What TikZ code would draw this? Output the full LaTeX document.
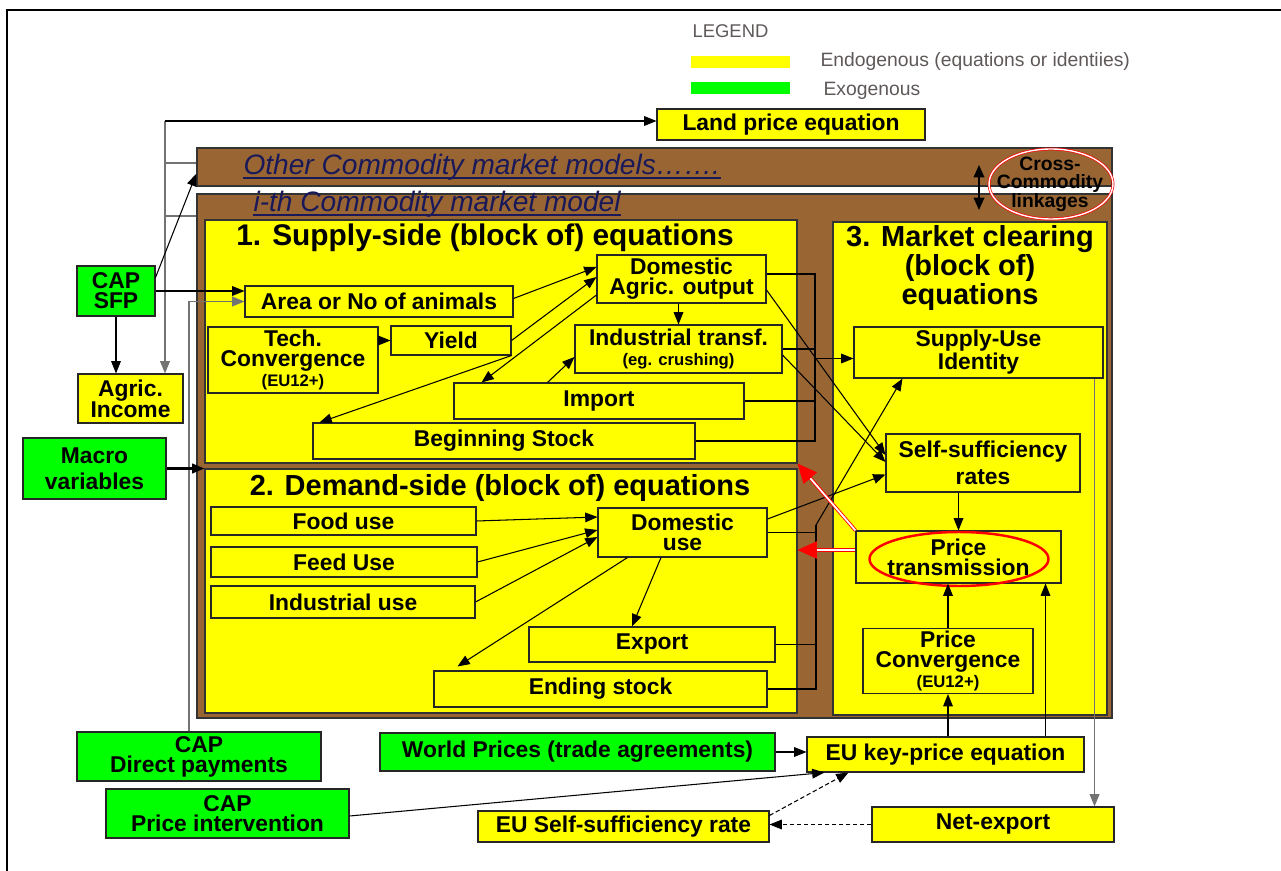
\documentclass[tikz,border=0pt]{standalone}
\usepackage{fontspec}
\setmainfont{Liberation Sans}
\usepackage{tikz}
\usetikzlibrary{arrows.meta, positioning, calc}

\definecolor{endoyel}{RGB}{255,255,0}
\definecolor{exogrn}{RGB}{0,255,0}
\definecolor{modbrown}{RGB}{153,102,51}
\definecolor{modnavy}{RGB}{25,25,90}
\definecolor{legtext}{RGB}{95,88,88}
\newcommand{\subtxt}[1]{{\fontsize{9.5}{9}\selectfont #1}}

\begin{document}
\begin{tikzpicture}[
    x=0.02cm, y=-0.02cm, line width=0.6pt,
    sz/.style 2 args={minimum width=#1*0.02cm, minimum height=#2*0.02cm},
    endo/.style={rectangle, draw=black!85, fill=endoyel, inner sep=0pt, align=center, font=\bfseries\fontsize{13}{11.5}\selectfont},
    exo/.style={endo, fill=exogrn},
    block/.style={rectangle, draw=black!80, line width=0.7pt, fill=endoyel, inner sep=0pt},
    model/.style={rectangle, draw=black!80, line width=0.8pt, fill=modbrown, inner sep=0pt},
    blocktitle/.style={font=\bfseries\fontsize{16.5}{15}\selectfont, align=center, inner sep=0pt},
    modtitle/.style={anchor=west, inner sep=0pt, text=modnavy, font=\itshape\fontsize{16}{18}\selectfont},
    legendtext/.style={anchor=west, inner sep=0pt, text=legtext, font=\fontsize{11}{12}\selectfont},
    arrow/.style={-{Triangle[length=7pt,width=5.5pt]}},
    grayline/.style={draw=black!55, line width=0.9pt},
    underl/.style={draw=modnavy, line width=1.1pt},
    redarrow/.style={draw=red, double=white, double distance=1pt, line width=0.5pt, -{Triangle[length=11pt,width=10pt]}}
]
\useasboundingbox (0,0) rectangle (1281,871);
\draw[line width=1.7pt] (7,871) -- (7,10) -- (1281,10);

% legend
\node[legendtext, font=\fontsize{10.5}{12}\selectfont] (legend) at (692,31) {LEGEND};
\node[fill=endoyel, sz={99}{12}, inner sep=0pt] (keyendo) at (740.5,62) {};
\node[fill=exogrn, sz={99}{12}, inner sep=0pt] (keyexo) at (740.5,88) {};
\node[legendtext] (endolab) at (820,62) {Endogenous (equations or identiies)};
\node[legendtext] (exolab) at (823,91) {Exogenous};

% commodity models
\node[model, sz={915}{38}] (others) at (654.5,167) {};
\node[model, sz={915}{524}] (ith) at (654.5,456) {};
\node[modtitle] (otherslab) at (243,167) {Other Commodity market models…….};
\node[modtitle] (ithlab) at (253,204) {i-th Commodity market model};
\draw[underl] ($(otherslab.base west)+(0,4)$) -- ($(otherslab.base east)+(0,4)$);
\draw[underl] ($(ithlab.base west)+(0,4)$) -- ($(ithlab.base east)+(0,4)$);

\node[block, sz={592}{243}] (supply) at (501,341.5) {};
\node[block, sz={592}{244}] (demand) at (501,591) {};
\node[block, sz={274}{493}] (market) at (970,468.5) {};
\node[blocktitle, font=\bfseries\fontsize{17}{15}\selectfont] (supplylab) at (485,238) {1. Supply-side (block of) equations};
\node[blocktitle] (demandlab) at (500,488) {2. Demand-side (block of) equations};
\node[blocktitle] (marketlab) at (970,268) {3. Market clearing\\(block of)\\equations};

% endogenous boxes
\node[endo, sz={268}{31}] (landprice) at (791,124.5) {Land price equation};
\node[endo, sz={268}{31}] (area) at (379,301.5) {Area or No of animals};
\node[endo, sz={170}{66}] (tech) at (293,360) {Tech.\\Convergence\\\subtxt{(EU12+)}};
\node[endo, sz={120}{29}] (yield) at (451,340.5) {Yield};
\node[endo, sz={169}{48}] (domagric) at (681.5,279) {Domestic\\Agric. output};
\node[endo, sz={207}{48}] (indtransf) at (678.5,349) {Industrial transf.\\\subtxt{(eg. crushing)}};
\node[endo, sz={290}{36}] (import) at (599,401) {Import};
\node[endo, sz={382}{36}] (begstock) at (504,441) {Beginning Stock};
\node[endo, sz={265}{28}] (food) at (343.5,521) {Food use};
\node[endo, sz={266}{30}] (feed) at (344,562) {Feed Use};
\node[endo, sz={264}{32}] (induse) at (343,602) {Industrial use};
\node[endo, sz={169}{49}] (domuse) at (682.5,532.5) {Domestic\\use};
\node[endo, sz={246}{35}] (export) at (652,644.5) {Export};
\node[endo, sz={333}{36}] (endstock) at (600.5,689) {Ending stock};
\node[endo, sz={249}{51}] (supplyuse) at (978.5,352.5) {Supply-Use\\Identity};
\node[endo, sz={194}{58}, font=\bfseries\fontsize{13}{15}\selectfont] (selfsuff) at (983,463) {Self-sufficiency\\rates};
\node[endo, sz={205}{52}] (pricetrans) at (958.5,557) {Price\\transmission};
\node[endo, sz={170}{65}] (priceconv) at (948,661) {Price\\Convergence\\\subtxt{(EU12+)}};
\node[endo, sz={105}{49}, font=\bfseries\fontsize{13}{12}\selectfont] (agricinc) at (130.5,398.5) {Agric.\\Income};
\node[endo, sz={277}{35}] (eukey) at (945.5,754.5) {EU key-price equation};
\node[endo, sz={291}{31}] (euself) at (623.5,826.5) {EU Self-sufficiency rate};
\node[endo, sz={242}{35}] (netexport) at (993,824.5) {Net-export};

% exogenous boxes
\node[exo, sz={78}{50}] (capsfp) at (116,291) {CAP\\SFP};
\node[exo, sz={143}{61}, font=\bfseries\fontsize{13}{15}\selectfont] (macro) at (94.5,468.5) {Macro\\variables};
\node[exo, sz={244}{49}] (capdp) at (199,756.5) {CAP\\Direct payments};
\node[exo, sz={243}{49}] (capprice) at (227.5,813.5) {CAP\\Price intervention};
\node[exo, sz={395}{38}] (world) at (577.5,752) {World Prices (trade agreements)};

% cross-commodity linkages
\node[font=\bfseries\fontsize{11}{10.5}\selectfont, align=center, inner sep=0pt] (cross) at (1050,184) {Cross-\\Commodity\\linkages};
\draw[red, line width=0.4pt, double=white, double distance=0.8pt] ($(cross.center)+(1,0)$) ellipse [x radius=1.24cm, y radius=0.7cm];
\coordinate (ccup) at (979,165);
\coordinate (ccdown) at (979,210);
\draw[{Triangle[length=7pt,width=6pt]}-{Triangle[length=7pt,width=6pt]}, line width=1pt] (ccup) -- (ccdown);
\draw[red, line width=1.4pt] ($(pricetrans.center)+(0.5,2)$) ellipse [x radius=1.79cm, y radius=0.54cm];

% feedback to land price and income
\coordinate (jland) at (165,121);
\coordinate (jothers) at (165,163);
\coordinate (jith) at (165,216);
\draw[grayline] (ith.west |- jith) -- (jith);
\draw[grayline] (others.west |- jothers) -- (jothers);
\draw[grayline, arrow] (jland) -- (jland |- agricinc.north);
\draw[arrow] (jland) -- (landprice.west |- jland);

% policy inputs
\draw[arrow] ($(capsfp.north east)+(0,12)$) -- ($(others.south west)+(0,-13)$);
\draw[arrow] (capsfp.east) -- (capsfp.east -| area.west);
\draw[arrow] (capsfp.south) -- (capsfp.south |- agricinc.north);
\coordinate (dpup) at ($(capdp.north)+(-10,0)$);
\draw[grayline, arrow] (dpup) |- (area.west);
\draw[arrow, line width=1.2pt] (macro.east) -- (macro.east -| supply.west);

% supply side
\draw[arrow] (tech.east |- yield.west) -- (yield.west);
\draw[arrow] ($(area.east)+(0,-3)$) -- ($(domagric.west)+(0,-12)$);
\draw[arrow] (yield.east) -- ($(domagric.west)+(0,-2)$);
\draw[arrow] ($(domagric.west)+(0,16)$) -- ($(import.north west)+(28,0)$);
\draw[arrow] (yield.south east) -- ($(begstock.north west)+(7,0)$);
\draw[arrow] (domagric.south -| indtransf.north) -- (indtransf.north);
\draw[arrow] ($(import.north west)+(94,0)$) -- ($(indtransf.west)+(0,8)$);
\coordinate (sbus) at (815,441);
\draw ($(domagric.east)+(0,-5)$) -| (sbus) -- (begstock.east);
\draw (indtransf.east) -- (indtransf.east -| sbus);
\draw (import.east) -- (import.east -| sbus);
\coordinate (suin) at ($(supplyuse.west)+(0,6)$);
\draw[arrow] (sbus |- suin) -- (suin);
\draw[arrow] ($(domagric.east)+(0,11)$) -- ($(selfsuff.west)+(0,-8)$);
\draw[arrow] ($(indtransf.east)+(0,6)$) -- ($(selfsuff.west)+(0,-1)$);

% demand side
\draw[arrow] (food.east) -- ($(domuse.west)+(0,-15.5)$);
\draw[arrow] (feed.east) -- ($(domuse.west)+(0,-2.5)$);
\draw[arrow] (induse.east) -- ($(domuse.west)+(0,4.5)$);
\draw[arrow] ($(domuse.south)+(-55,0)$) -- ($(endstock.north west)+(24,-4)$);
\draw[arrow] ($(domuse.south)+(-21.5,0)$) -- ($(export.north)+(-20,0)$);
\draw[arrow] ($(domuse.east)+(0,-13.5)$) -- ($(selfsuff.south west)+(0,-18)$);
\coordinate (dtop) at (816,525);
\coordinate (dbot) at (816,689);
\draw (domuse.east) -- (domuse.east -| dtop);
\draw (dtop) -- (dbot) -- (endstock.east);
\draw (export.east) -- (export.east -| dbot);
\draw[arrow] (dtop) -- ($(supplyuse.south west)+(49,0)$);

% market clearing
\draw[arrow] (selfsuff.south -| pricetrans.north) -- (pricetrans.north);
\draw[arrow] (priceconv.north) -- (priceconv.north |- pricetrans.south);
\draw[arrow] (eukey.north -| priceconv.south) -- (priceconv.south);
\coordinate (ekright) at ($(eukey.north)+(100,0)$);
\draw[arrow] (ekright) -- (ekright |- pricetrans.south);
\coordinate (sudown) at ($(supplyuse.south east)+(-9,0)$);
\draw[grayline, arrow] (sudown) -- (sudown |- netexport.north);
\coordinate (ptw) at ($(pricetrans.west)+(0,-7)$);
\draw[redarrow] (pricetrans.north west) -- (supply.south east);
\draw[redarrow] (ptw) -- (ptw -| supply.east);

% prices
\draw[arrow] (world.east) -- (world.east -| eukey.west);
\draw[arrow] ($(capprice.east)+(0,2.5)$) -- ($(eukey.south west)+(18,0)$);
\draw[arrow, dash pattern=on 2.5pt off 1.5pt] ($(euself.north east)+(0,5)$) -- ($(eukey.south west)+(42,0)$);
\draw[arrow, dash pattern=on 2.5pt off 1.5pt] (netexport.west) -- (netexport.west -| euself.east);

\end{tikzpicture}
\end{document}
